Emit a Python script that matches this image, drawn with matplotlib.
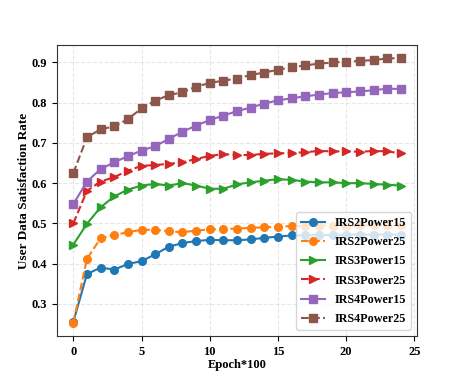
import matplotlib
matplotlib.use('Agg')
import matplotlib.pyplot as plt

plt.rcParams['font.family'] = ['Liberation Serif', 'DejaVu Serif']
plt.rcParams['font.weight'] = 'bold'

epochs = list(range(25))

irs2_p15 = [0.255, 0.374, 0.390, 0.385, 0.399, 0.406, 0.423, 0.442, 0.451, 0.456,
            0.459, 0.458, 0.458, 0.460, 0.464, 0.467, 0.470, 0.470, 0.471, 0.471,
            0.472, 0.472, 0.472, 0.472, 0.472]
irs2_p25 = [0.253, 0.412, 0.463, 0.471, 0.478, 0.484, 0.484, 0.480, 0.478, 0.482,
            0.485, 0.486, 0.487, 0.489, 0.490, 0.492, 0.493, 0.493, 0.494, 0.494,
            0.494, 0.495, 0.495, 0.495, 0.496]
irs3_p15 = [0.447, 0.499, 0.540, 0.567, 0.584, 0.594, 0.598, 0.594, 0.600, 0.594,
            0.586, 0.586, 0.597, 0.602, 0.606, 0.610, 0.608, 0.604, 0.602, 0.602,
            0.600, 0.600, 0.598, 0.596, 0.594]
irs3_p25 = [0.500, 0.581, 0.604, 0.615, 0.631, 0.643, 0.645, 0.648, 0.652, 0.660,
            0.668, 0.672, 0.670, 0.670, 0.673, 0.674, 0.675, 0.677, 0.680, 0.679,
            0.679, 0.678, 0.680, 0.679, 0.674]
irs4_p15 = [0.548, 0.604, 0.635, 0.652, 0.667, 0.681, 0.692, 0.710, 0.728, 0.743,
            0.757, 0.768, 0.779, 0.788, 0.798, 0.806, 0.811, 0.816, 0.820, 0.824,
            0.826, 0.828, 0.831, 0.835, 0.834]
irs4_p25 = [0.625, 0.714, 0.734, 0.741, 0.759, 0.786, 0.805, 0.819, 0.826, 0.840,
            0.849, 0.855, 0.860, 0.869, 0.875, 0.882, 0.888, 0.893, 0.897, 0.900,
            0.902, 0.904, 0.906, 0.910, 0.911]

fig = plt.figure(figsize=(4.63, 3.80), dpi=100)
ax = fig.add_axes([0.123, 0.116, 0.778, 0.766])

ms = 5.5
ax.plot(epochs, irs2_p15, '-o', color='#1f77b4', lw=1.5, ms=ms, label='IRS2Power15')
ax.plot(epochs, irs2_p25, '--o', color='#ff7f0e', lw=1.5, ms=ms, label='IRS2Power25')
ax.plot(epochs, irs3_p15, '->', color='#2ca02c', lw=1.5, ms=ms, label='IRS3Power15')
ax.plot(epochs, irs3_p25, '-->', color='#d62728', lw=1.5, ms=ms, label='IRS3Power25')
ax.plot(epochs, irs4_p15, '-s', color='#9467bd', lw=1.5, ms=ms, label='IRS4Power15')
ax.plot(epochs, irs4_p25, '--s', color='#8c564b', lw=1.5, ms=ms, label='IRS4Power25')

ax.set_xticks([0, 5, 10, 15, 20, 25])
ax.set_yticks([0.3, 0.4, 0.5, 0.6, 0.7, 0.8, 0.9])
ax.grid(True, linestyle='--', color='#dddddd', alpha=0.7, lw=0.8)
ax.tick_params(labelsize=9)
for s in ax.spines.values():
    s.set_color('#333333')

ax.set_xlabel('Epoch*100', fontsize=9, fontweight='bold', labelpad=1)
ax.set_ylabel('User Data Satisfaction Rate', fontsize=9.5, fontweight='bold', labelpad=1.5)
ax.legend(loc='lower right', fontsize=8.7, framealpha=0.8, labelspacing=0.6)

plt.savefig('out.png', dpi=100)
